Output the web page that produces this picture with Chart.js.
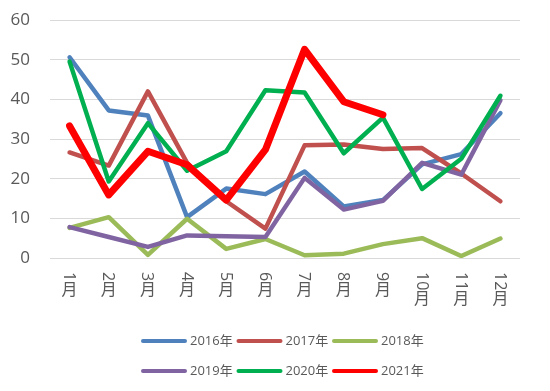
<!DOCTYPE html>
<html><head><meta charset="utf-8">
<script src="https://cdn.jsdelivr.net/npm/chart.js@4.4.0/dist/chart.umd.min.js"></script>
<style>html,body{margin:0;padding:0;background:#fff;}#wrap{width:550px;height:391px;}</style>
</head><body><div id="wrap"><canvas id="c" width="550" height="391"></canvas></div>
<script>
const monthNums = ['1','2','3','4','5','6','7','8','9','10','11','12'];
const monthSuffix = '月';
const months = monthNums.map(n => n + monthSuffix);
const yTicks = [0, 10, 20, 30, 40, 50, 60];

const seriesNames = ['2016年', '2017年', '2018年', '2019年', '2020年', '2021年'];
const v2016 = [50.6, 37.2, 35.9, 10.3, 17.5, 16.1, 21.8, 13.0, 14.6, 23.6, 26.2, 36.5];
const v2017 = [26.6, 23.3, 42.0, 24.0, 14.3, 7.4, 28.4, 28.6, 27.5, 27.7, 21.3, 14.3];
const v2018 = [7.6, 10.3, 0.8, 9.9, 2.3, 4.8, 0.7, 1.1, 3.5, 5.0, 0.5, 4.9];
const v2019 = [7.8, 5.3, 2.8, 5.7, 5.5, 5.3, 20.2, 12.2, 14.4, 24.0, 21.0, 39.8];
const v2020 = [49.5, 19.3, 34.0, 22.0, 26.9, 42.3, 41.7, 26.4, 35.4, 17.4, 25.0, 40.9];
const v2021 = [33.3, 15.9, 26.9, 23.5, 14.6, 27.3, 52.6, 39.4, 36.1, null, null, null];

const seriesValues = [v2016, v2017, v2018, v2019, v2020, v2021];
const seriesColors = ['#4F81BD', '#C0504D', '#9BBB59', '#8064A2', '#00B050', '#FF0000'];
const seriesWidths = [4.5, 4.5, 4.5, 4.5, 4.5, 7];

const TXT = '#595959';
const FONT = '"Open Sans", "Noto Sans CJK SC", sans-serif';

const datasets = seriesNames.map((name, i) => ({
  label: name,
  data: seriesValues[i],
  borderColor: seriesColors[i],
  backgroundColor: seriesColors[i],
  borderWidth: seriesWidths[i],
  borderJoinStyle: 'round',
  borderCapStyle: 'round',
  pointRadius: 0,
  pointHoverRadius: 0,
  tension: 0,
  spanGaps: false,
  order: seriesNames.length - i
}));

const customText = {
  id: 'customText',
  afterDraw(chart) {
    const ctx = chart.ctx;
    const xs = chart.scales.x;
    const top = chart.chartArea.bottom + 14;
    ctx.save();
    ctx.fillStyle = TXT;
    ctx.font = '16px ' + FONT;
    // x tick labels: digits rotated, 月 upright
    monthNums.forEach((n, i) => {
      const x = xs.getPixelForValue(i);
      const w = ctx.measureText(n).width;
      ctx.save();
      ctx.translate(x, top);
      ctx.rotate(Math.PI / 2);
      ctx.textAlign = 'left';
      ctx.textBaseline = 'middle';
      ctx.fillText(n, 0, 1);
      ctx.restore();
      ctx.textAlign = 'center';
      ctx.textBaseline = 'top';
      ctx.fillText(monthSuffix, x, top + w + 1);
    });
    // legend
    ctx.font = '13px ' + FONT;
    ctx.textAlign = 'left';
    ctx.textBaseline = 'middle';
    const perRow = 3;
    chart.data.datasets.forEach((ds, i) => {
      const col = i % perRow, row = Math.floor(i / perRow);
      const x0 = 141 + col * 95.5;
      const y0 = 341 + row * 30;
      ctx.strokeStyle = ds.borderColor;
      ctx.lineWidth = 4;
      ctx.lineCap = 'round';
      ctx.beginPath();
      ctx.moveTo(x0 + 2, y0);
      ctx.lineTo(x0 + 44, y0);
      ctx.stroke();
      ctx.fillStyle = TXT;
      ctx.fillText(ds.label, x0 + 49, y0 + 0.5);
    });
    ctx.restore();
  }
};

new Chart(document.getElementById('c'), {
  type: 'line',
  data: { labels: months, datasets },
  options: {
    responsive: false,
    devicePixelRatio: 1,
    animation: false,
    layout: { padding: { left: 10, right: 30, top: 20, bottom: 0 } },
    plugins: { legend: { display: false }, tooltip: { enabled: false } },
    scales: {
      x: {
        type: 'category',
        offset: true,
        grid: { display: false },
        border: { display: false },
        ticks: { display: false },
        afterFit(scale) { scale.height = 133; }
      },
      y: {
        min: yTicks[0],
        max: yTicks[yTicks.length - 1],
        afterBuildTicks(scale) { scale.ticks = yTicks.map(v => ({ value: v })); },
        ticks: { color: TXT, font: { family: FONT, size: 17 }, padding: 20 },
        grid: { color: '#d9d9d9', lineWidth: 1, drawTicks: false },
        border: { display: false },
        afterFit(scale) { scale.width = 40; scale.paddingTop = 10; scale.paddingBottom = 10; }
      }
    }
  },
  plugins: [customText]
});
</script>
</body></html>
